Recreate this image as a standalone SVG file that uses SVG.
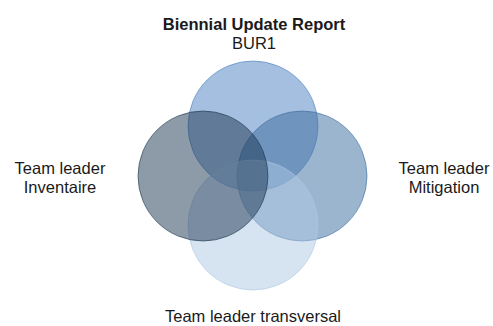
<svg xmlns="http://www.w3.org/2000/svg" width="493" height="326" viewBox="0 0 493 326">
<style>
.lbl{font-family:"Liberation Sans",Arial,sans-serif;font-size:16.5px;fill:#1a1a1a;text-anchor:middle}
.b{font-weight:bold}
.c{fill-opacity:0.5;stroke-opacity:0.6;stroke-width:1}
</style>
<rect width="493" height="326" fill="#ffffff"/>
<g id="circle-top"><circle class="c" cx="253" cy="126" r="65" fill="#4a7fbf" stroke="#4a7fbf"/></g>
<g id="circle-right"><circle class="c" cx="302" cy="176" r="65" fill="#396b9f" stroke="#396b9f"/></g>
<g id="circle-bottom"><circle class="c" cx="253" cy="225" r="65" fill="#aec8e4" stroke="#aec8e4"/></g>
<g id="circle-left"><circle class="c" cx="203" cy="176" r="65" fill="#1b3652" stroke="#1b3652"/></g>
<g id="connectors"></g>
<g id="label-top"><text class="lbl b" x="254" y="30">Biennial Update Report</text><text class="lbl" x="254" y="49">BUR1</text></g>
<g id="label-left"><text class="lbl" x="60" y="174">Team leader</text><text class="lbl" x="60" y="193">Inventaire</text></g>
<g id="label-right"><text class="lbl" x="444" y="174">Team leader</text><text class="lbl" x="444" y="193">Mitigation</text></g>
<g id="label-bottom"><text class="lbl" x="253" y="322">Team leader transversal</text></g>
</svg>
